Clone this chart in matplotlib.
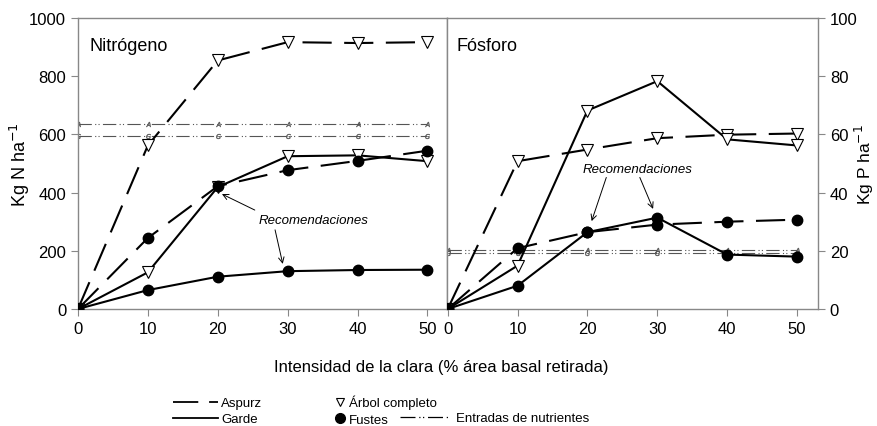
import matplotlib.pyplot as plt
from matplotlib.lines import Line2D

plt.rcParams['font.family'] = ['Liberation Sans', 'DejaVu Sans']

x = [0, 10, 20, 30, 40, 50]

# Nitrogeno (kg N/ha)
n_aspurz_arbol = [0, 562, 854, 917, 914, 917]
n_garde_arbol = [0, 126, 419, 525, 528, 508]
n_aspurz_fustes = [0, 244, 422, 477, 509, 544]
n_garde_fustes = [0, 65, 111, 130, 134, 135]
n_entrada_a = 636
n_entrada_g = 593

# Fosforo (kg P/ha)
p_aspurz_arbol = [0, 50.8, 54.8, 58.7, 59.9, 60.3]
p_garde_arbol = [0, 14.9, 68.2, 78.3, 58.3, 56.2]
p_aspurz_fustes = [0, 20.9, 26.4, 29.0, 30.0, 30.7]
p_garde_fustes = [0, 8.0, 26.4, 31.4, 18.7, 18.0]
p_entrada_a = 20.4
p_entrada_g = 19.3

DASH = (0, (14, 6))
DASHDOT = (0, (12, 3, 1, 2, 1, 3))
GRAY = '#888888'


def draw_panel(ax, ab_arbol, g_arbol, ab_fus, g_fus, ent_a, ent_g):
    ax.plot(x, [ent_a] * len(x), color='#555555', lw=0.8, ls=DASHDOT,
            marker='$A$', ms=3.5, mew=0.3, zorder=1)
    ax.plot(x, [ent_g] * len(x), color='#555555', lw=0.8, ls=DASHDOT,
            marker='$G$', ms=3.5, mew=0.3, zorder=1)
    ax.plot(x, ab_arbol, color='black', lw=1.5, ls=DASH, marker='v', ms=8,
            mfc='white', mec='black', mew=0.8, zorder=3)
    ax.plot(x, g_arbol, color='black', lw=1.5, ls='-', marker='v', ms=8,
            mfc='white', mec='black', mew=0.8, zorder=3)
    ax.plot(x, ab_fus, color='black', lw=1.5, ls=DASH, marker='o', ms=7.5,
            mfc='black', zorder=4)
    ax.plot(x, g_fus, color='black', lw=1.5, ls='-', marker='o', ms=7.5,
            mfc='black', zorder=4)
    ax.set_xlim(0, 52.8)
    ax.set_xticks(x)
    for s in ax.spines.values():
        s.set_color(GRAY)
        s.set_linewidth(1.0)
    ax.tick_params(direction='out', length=5, color=GRAY, labelsize=12)


fig = plt.figure(figsize=(8.77, 4.27), dpi=100)
ax1 = fig.add_axes([0.0889, 0.274, 0.4208, 0.6815])
ax2 = fig.add_axes([0.5097, 0.274, 0.423, 0.6815])

draw_panel(ax1, n_aspurz_arbol, n_garde_arbol, n_aspurz_fustes, n_garde_fustes,
           n_entrada_a, n_entrada_g)
ax1.set_ylim(0, 1000)
ax1.set_yticks(range(0, 1001, 200))
ax1.set_ylabel('Kg N ha$^{-1}$', fontsize=13, labelpad=-2)
ax1.text(0.03, 0.935, 'Nitrógeno', transform=ax1.transAxes, fontsize=13,
         va='top', ha='left')

draw_panel(ax2, p_aspurz_arbol, p_garde_arbol, p_aspurz_fustes, p_garde_fustes,
           p_entrada_a, p_entrada_g)
ax2.set_xlim(-0.1, 53)
ax2.set_ylim(0, 100)
ax2.set_yticks(range(0, 101, 20))
ax2.yaxis.tick_right()
ax2.yaxis.set_label_position('right')
ax2.set_ylabel('Kg P ha$^{-1}$', fontsize=12.5, labelpad=-3)
ax2.text(0.025, 0.935, 'Fósforo', transform=ax2.transAxes, fontsize=13,
         va='top', ha='left')

arrow = dict(arrowstyle='->', lw=0.7, color='black', shrinkA=0, shrinkB=0)
ax1.text(33.7, 306, 'Recomendaciones', style='italic', fontsize=9.5,
         ha='center', va='center')
ax1.annotate('', xy=(20.6, 395), xytext=(25.3, 340), arrowprops=arrow)
ax1.annotate('', xy=(29.3, 155), xytext=(28.2, 272), arrowprops=arrow)

ax2.text(27.2, 48.1, 'Recomendaciones', style='italic', fontsize=9.5,
         ha='center', va='center')
ax2.annotate('', xy=(20.6, 30.2), xytext=(22.7, 45.2), arrowprops=arrow)
ax2.annotate('', xy=(29.4, 34.4), xytext=(27.5, 45.2), arrowprops=arrow)

fig.text(0.503, 0.14, 'Intensidad de la clara (% área basal retirada)',
         fontsize=12, ha='center', va='center')

leg_kw = dict(frameon=False, fontsize=9.5, borderpad=0, borderaxespad=0,
              labelspacing=0.3, loc='upper left')
h1 = [Line2D([], [], color='black', lw=1.3, ls=DASH),
      Line2D([], [], color='black', lw=1.3, ls='-')]
fig.legend(h1, ['Aspurz', 'Garde'], handlelength=3.4, handletextpad=0.25,
           bbox_to_anchor=(173 / 877, 1 - 398 / 427), **leg_kw)
h2 = [Line2D([], [], ls='none', marker='v', ms=6, mfc='white', mec='black', mew=0.8),
      Line2D([], [], ls='none', marker='o', ms=7, mfc='black', mec='black')]
fig.legend(h2, ['Árbol completo', 'Fustes'], handlelength=0.6, handletextpad=0.35,
           bbox_to_anchor=(336 / 877, 1 - 396 / 427), **leg_kw)
h3 = [Line2D([], [], color='black', lw=0.9, ls=DASHDOT)]
fig.legend(h3, ['Entradas de nutrientes'], handlelength=3.8, handletextpad=0.45,
           bbox_to_anchor=(400 / 877, 1 - 413 / 427), **leg_kw)

fig.savefig('out.png', dpi=100)
